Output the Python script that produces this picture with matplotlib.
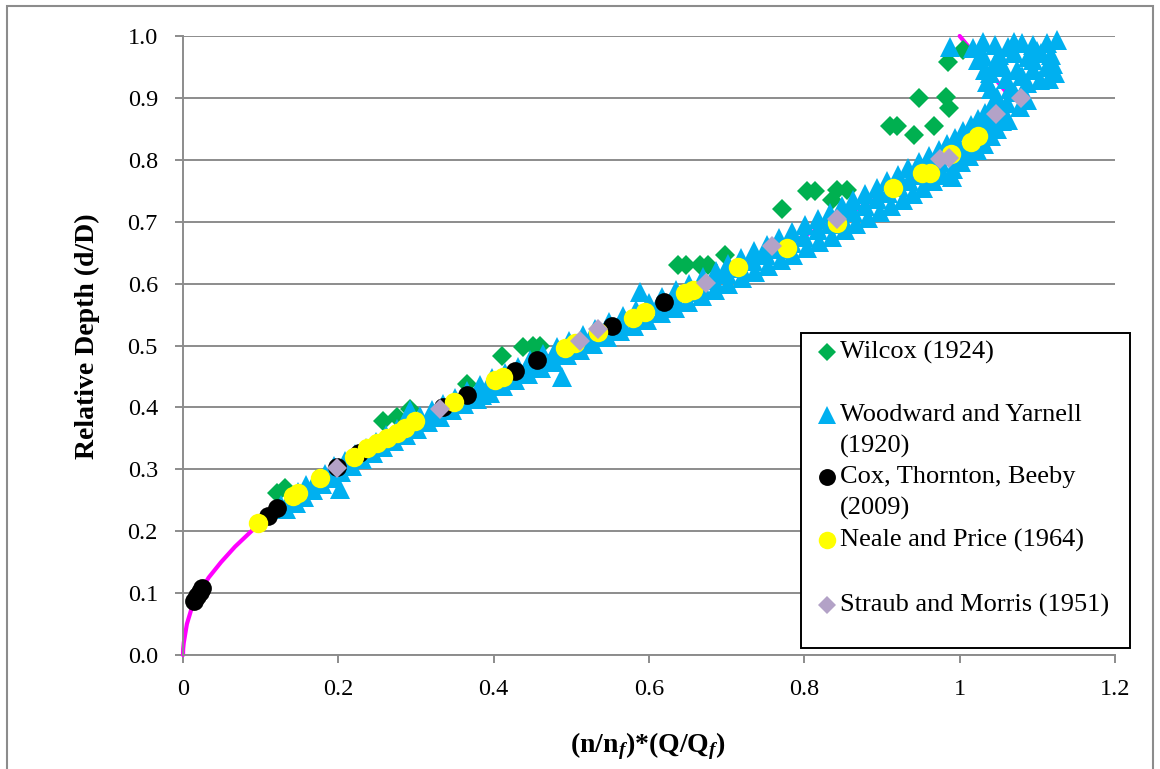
import matplotlib
matplotlib.use("Agg")
import matplotlib.pyplot as plt
from matplotlib.lines import Line2D
from matplotlib.patches import Rectangle

plt.rcParams['font.family'] = ['Liberation Serif', 'DejaVu Serif']
plt.rcParams['mathtext.fontset'] = 'custom'
plt.rcParams['mathtext.rm'] = 'Liberation Serif'
plt.rcParams['mathtext.bf'] = 'Liberation Serif:bold'
plt.rcParams['mathtext.it'] = 'Liberation Serif:italic'
plt.rcParams['mathtext.bfit'] = 'Liberation Serif:italic:bold'

# ---- theoretical part-full pipe curve ----
curve_x = [0.0, 0.0002, 0.001, 0.005, 0.011, 0.021, 0.033, 0.049, 0.067, 0.088,
           0.137, 0.196, 0.263, 0.337, 0.417, 0.500, 0.586, 0.672, 0.756,
           0.837, 0.912, 0.978, 1.031, 1.066, 1.000]
curve_y = [0.0, 0.01, 0.02, 0.05, 0.075, 0.10, 0.125, 0.15, 0.175, 0.20,
           0.25, 0.30, 0.35, 0.40, 0.45, 0.50, 0.55, 0.60, 0.65,
           0.70, 0.75, 0.80, 0.85, 0.90, 1.00]

# ---- Wilcox (1924) ----
wilcox_x = [0.121, 0.131, 0.258, 0.276, 0.292, 0.366, 0.411, 0.438, 0.451, 0.460,
            0.637, 0.648, 0.666, 0.676, 0.698, 0.771, 0.803, 0.814, 0.836, 0.842,
            0.855, 0.910, 0.919, 0.941, 0.967, 0.948, 0.982, 0.986, 0.985, 1.004]
wilcox_y = [0.262, 0.270, 0.378, 0.385, 0.398, 0.438, 0.483, 0.498, 0.499, 0.499,
            0.630, 0.630, 0.630, 0.630, 0.646, 0.720, 0.750, 0.750, 0.735, 0.751,
            0.751, 0.855, 0.855, 0.840, 0.855, 0.900, 0.901, 0.884, 0.958, 0.977]

# ---- Woodward and Yarnell (1920) ----
woodward_x = [
    # upper side of the band
    0.126, 0.138, 0.148, 0.159, 0.171, 0.183, 0.194, 0.208, 0.221, 0.235,
    0.249, 0.262, 0.276, 0.291, 0.305, 0.320, 0.335, 0.350, 0.366, 0.383,
    0.398, 0.414, 0.431, 0.447, 0.464, 0.481, 0.497, 0.515, 0.531, 0.549,
    0.566, 0.583, 0.600, 0.617, 0.635, 0.651, 0.669, 0.686, 0.702, 0.719,
    0.735, 0.752, 0.768, 0.784, 0.801, 0.817, 0.833, 0.848, 0.863, 0.878,
    0.893, 0.907, 0.920, 0.934, 0.947, 0.960, 0.973, 0.984, 0.994, 1.004,
    1.014, 1.024, 1.032, 1.040,
    # lower side of the band
    0.133, 0.145, 0.156, 0.168, 0.179, 0.192, 0.204, 0.217, 0.230, 0.244,
    0.258, 0.272, 0.287, 0.301, 0.316, 0.331, 0.346, 0.362, 0.379, 0.395,
    0.412, 0.428, 0.444, 0.461, 0.478, 0.494, 0.511, 0.528, 0.546, 0.563,
    0.581, 0.598, 0.615, 0.633, 0.650, 0.668, 0.685, 0.702, 0.720, 0.736,
    0.753, 0.770, 0.786, 0.803, 0.819, 0.836, 0.852, 0.867, 0.882, 0.897,
    0.912, 0.927, 0.940, 0.953, 0.966, 0.979, 0.991, 1.002, 1.012, 1.022,
    1.031, 1.040, 1.048, 1.055,
    # middle of the band
    0.136, 0.147, 0.159, 0.170, 0.182, 0.194, 0.206, 0.220, 0.233, 0.247,
    0.260, 0.274, 0.289, 0.304, 0.318, 0.333, 0.349, 0.365, 0.381, 0.397,
    0.413, 0.429, 0.445, 0.462, 0.479, 0.495, 0.512, 0.529, 0.547, 0.564,
    0.581, 0.598, 0.615, 0.633, 0.650, 0.667, 0.684, 0.701, 0.718, 0.734,
    0.751, 0.768, 0.784, 0.800, 0.817, 0.833, 0.848, 0.863, 0.878, 0.893,
    0.908, 0.922, 0.935, 0.949, 0.962, 0.975, 0.987, 0.998, 1.008, 1.019,
    1.029, 1.038,
    # upper cluster
    0.988, 1.017, 1.045, 1.062, 1.080, 1.094, 1.112, 1.125, 1.030, 1.070,
    1.030, 1.050, 1.070, 1.088, 1.105, 1.100, 1.118, 1.024, 1.033,
    1.039, 1.056, 1.074, 1.094, 1.112, 1.123, 1.103, 1.087, 1.060, 1.045,
    1.080, 1.095, 1.120, 1.035, 1.065,
    1.048, 1.061, 1.087, 1.078, 1.052, 1.062, 1.070, 1.040, 1.115, 1.055,
    # scattered points
    0.202, 0.488, 0.588, 0.990, 0.385, 0.292,
]
woodward_y = [
    # upper side of the band
    0.243, 0.254, 0.263, 0.274, 0.284, 0.293, 0.305, 0.314, 0.325, 0.334,
    0.344, 0.355, 0.365, 0.375, 0.386, 0.395, 0.406, 0.415, 0.426, 0.436,
    0.447, 0.456, 0.466, 0.477, 0.486, 0.497, 0.507, 0.517, 0.527, 0.538,
    0.547, 0.558, 0.568, 0.579, 0.589, 0.600, 0.610, 0.620, 0.631, 0.641,
    0.652, 0.662, 0.673, 0.683, 0.694, 0.704, 0.714, 0.725, 0.735, 0.745,
    0.755, 0.766, 0.776, 0.786, 0.796, 0.806, 0.816, 0.826, 0.836, 0.846,
    0.856, 0.866, 0.876, 0.885,
    # lower side of the band
    0.236, 0.246, 0.256, 0.266, 0.276, 0.286, 0.296, 0.306, 0.316, 0.326,
    0.336, 0.346, 0.356, 0.365, 0.376, 0.385, 0.395, 0.405, 0.414, 0.424,
    0.434, 0.444, 0.454, 0.464, 0.473, 0.484, 0.493, 0.503, 0.513, 0.523,
    0.532, 0.542, 0.552, 0.561, 0.571, 0.580, 0.590, 0.599, 0.609, 0.619,
    0.628, 0.638, 0.647, 0.657, 0.667, 0.676, 0.686, 0.696, 0.706, 0.716,
    0.725, 0.735, 0.745, 0.755, 0.765, 0.775, 0.785, 0.796, 0.806, 0.816,
    0.826, 0.838, 0.850, 0.862,
    # middle of the band
    0.246, 0.256, 0.266, 0.276, 0.286, 0.296, 0.306, 0.316, 0.326, 0.336,
    0.346, 0.356, 0.366, 0.376, 0.386, 0.396, 0.406, 0.416, 0.426, 0.436,
    0.446, 0.456, 0.466, 0.476, 0.486, 0.496, 0.506, 0.516, 0.526, 0.536,
    0.546, 0.556, 0.566, 0.576, 0.586, 0.596, 0.606, 0.616, 0.626, 0.636,
    0.646, 0.656, 0.666, 0.676, 0.686, 0.696, 0.706, 0.716, 0.726, 0.736,
    0.746, 0.756, 0.766, 0.776, 0.786, 0.796, 0.806, 0.816, 0.826, 0.836,
    0.846, 0.856,
    # upper cluster
    0.982, 0.981, 0.985, 0.982, 0.989, 0.985, 0.989, 0.994, 0.990, 0.990,
    0.968, 0.970, 0.972, 0.966, 0.972, 0.975, 0.970, 0.962, 0.945,
    0.940, 0.950, 0.945, 0.961, 0.950, 0.940, 0.929, 0.924, 0.930, 0.955,
    0.935, 0.945, 0.955, 0.925, 0.915,
    0.901, 0.892, 0.897, 0.885, 0.869, 0.864, 0.910, 0.915, 0.930, 0.880,
    # scattered points
    0.268, 0.449, 0.587, 0.772, 0.420, 0.395,
]

# ---- Cox, Thornton, Beeby (2009) ----
cox_x = [0.014, 0.018, 0.022, 0.025, 0.110, 0.121, 0.198, 0.226, 0.335, 0.366,
         0.428, 0.456, 0.553, 0.619]
cox_y = [0.087, 0.095, 0.102, 0.108, 0.225, 0.237, 0.304, 0.326, 0.401, 0.420,
         0.458, 0.476, 0.531, 0.570]

# ---- Neale and Price (1964) ----
neale_x = [0.097, 0.142, 0.148, 0.176, 0.220, 0.237, 0.250, 0.263, 0.275, 0.286,
           0.299, 0.349, 0.402, 0.412, 0.492, 0.505, 0.534, 0.579, 0.595, 0.646,
           0.657, 0.714, 0.778, 0.842, 0.914, 0.951, 0.962, 0.989, 1.014, 1.024]
neale_y = [0.213, 0.257, 0.262, 0.286, 0.320, 0.334, 0.342, 0.351, 0.359, 0.367,
           0.378, 0.409, 0.444, 0.449, 0.496, 0.504, 0.522, 0.544, 0.554, 0.585,
           0.590, 0.627, 0.658, 0.698, 0.754, 0.778, 0.778, 0.809, 0.829, 0.838]

# ---- Straub and Morris (1951) ----
straub_x = [0.198, 0.331, 0.511, 0.534, 0.673, 0.758, 0.842, 0.975, 0.986, 1.047, 1.079]
straub_y = [0.302, 0.398, 0.508, 0.527, 0.601, 0.661, 0.705, 0.802, 0.803, 0.874, 0.900]

y_ticks = [0.0, 0.1, 0.2, 0.3, 0.4, 0.5, 0.6, 0.7, 0.8, 0.9, 1.0]
y_tick_labels = ['0.0', '0.1', '0.2', '0.3', '0.4', '0.5', '0.6', '0.7', '0.8', '0.9', '1.0']
x_ticks = [0.0, 0.2, 0.4, 0.6, 0.8, 1.0, 1.2]
x_tick_labels = ['0', '0.2', '0.4', '0.6', '0.8', '1', '1.2']

series = [
    ('Wilcox (1924)', wilcox_x, wilcox_y, 'D', '#00B050', 10.0),
    ('Woodward and Yarnell\n(1920)', woodward_x, woodward_y, '^', '#00B0F0', 14.5),
    ('Cox, Thornton, Beeby\n(2009)', cox_x, cox_y, 'o', '#000000', 13.5),
    ('Neale and Price (1964)', neale_x, neale_y, 'o', '#FFFF00', 14.0),
    ('Straub and Morris (1951)', straub_x, straub_y, 'D', '#B3A2C7', 10.0),
]

W, H = 1160, 769
fig = plt.figure(figsize=(W / 100, H / 100), dpi=100)
fig.patch.set_facecolor('white')

# outer chart frame
fig.add_artist(Rectangle((7 / W, -0.05), (1153 - 7) / W, 1.05 - 6 / H,
                         transform=fig.transFigure, fill=False,
                         edgecolor='#8c8c8c', linewidth=1.5))

ax = fig.add_axes([183 / W, 1 - 655 / H, 932 / W, 619 / H])
ax.set_xlim(0, 1.2)
ax.set_ylim(0, 1.0)

grey = '#8c8c8c'
ax.yaxis.grid(True, color=grey, linewidth=1.4)
ax.set_axisbelow(True)
for s in ('top', 'right'):
    ax.spines[s].set_visible(False)
for s in ('left', 'bottom'):
    ax.spines[s].set_color(grey)
    ax.spines[s].set_linewidth(1.4)

ax.set_yticks(y_ticks)
ax.set_yticklabels(y_tick_labels)
ax.set_xticks(x_ticks)
ax.set_xticklabels(x_tick_labels)
ax.tick_params(axis='y', direction='out', length=6, width=1.4, color=grey,
               labelsize=17.5, pad=12)
ax.tick_params(axis='x', direction='out', length=6, width=1.4, color=grey,
               labelsize=17.5, pad=11)

ax.plot(curve_x, curve_y, color='#FF00FF', linewidth=3, zorder=2,
        solid_capstyle='round', clip_on=False)

for i, (label, xs, ys, mk, col, ms) in enumerate(series):
    ax.plot(xs, ys, linestyle='none', marker=mk, markersize=ms,
            markerfacecolor=col, markeredgewidth=0, zorder=3 + i, clip_on=False)

ax.set_ylabel('Relative Depth (d/D)', fontsize=20, fontweight='bold')
ax.yaxis.set_label_coords(-0.089, 0.515)
ax.set_xlabel(r'$\mathbf{(n/n}_{\mathbfit{f}}\mathbf{)}{\mathbf{*}}'
              r'\mathbf{(Q/Q}_{\mathbfit{f}}\mathbf{)}$', fontsize=20)
ax.xaxis.set_label_coords(0.499, -0.122)

# legend panel
fig.add_artist(Rectangle((801 / W, 1 - 648 / H), 329 / W, 315 / H,
                         transform=fig.transFigure, facecolor='white',
                         edgecolor='black', linewidth=1.4, zorder=10))
legend_rows = [352, 415, 477, 540, 605]
for (label, xs, ys, mk, col, ms), row in zip(series, legend_rows):
    fig.add_artist(Line2D([827 / W], [1 - row / H], transform=fig.transFigure,
                          linestyle='none', marker=mk, markersize=ms * 0.9,
                          markerfacecolor=col, markeredgewidth=0, zorder=11))
    for k, line in enumerate(label.split('\n')):
        fig.text(840 / W, 1 - (row + 31 * k) / H, line, fontsize=19,
                 va='center', ha='left', zorder=11)

fig.savefig('out.png', dpi=100)
